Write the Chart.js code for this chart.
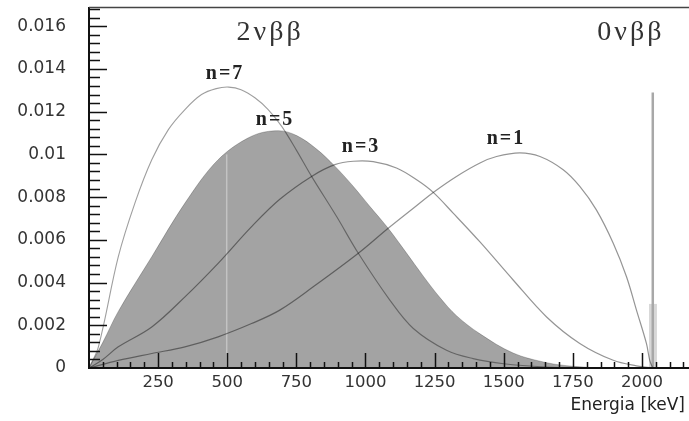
<!DOCTYPE html>
<html><head><meta charset="utf-8">
<script src="https://cdn.jsdelivr.net/npm/chart.js@4.4.0/dist/chart.umd.min.js"></script>
<style>html,body{margin:0;padding:0;background:#fff;}#wrap{width:689px;height:421px;}</style>
</head><body><div id="wrap"><canvas id="c" width="689" height="421"></canvas></div>
<script>
// ---- tick labels ----
const xTicks = [250, 500, 750, 1000, 1250, 1500, 1750, 2000];
const yTicks = [0, 0.002, 0.004, 0.006, 0.008, 0.01, 0.012, 0.014, 0.016];
const yTickLabels = ['0', '0.002', '0.004', '0.006', '0.008', '0.01', '0.012', '0.014', '0.016'];
const xTitle = 'Energia [keV]';

// ---- series (energy keV, value) ----
const n7E = [0, 34, 106, 166, 227, 287, 347, 407, 460, 505, 550, 600, 648, 697, 750, 805, 895, 974, 1088, 1173, 1293, 1389, 1500, 1650, 1800];
const n7V = [0, 0.00099, 0.00521, 0.00772, 0.00975, 0.01116, 0.0121, 0.0128, 0.01308, 0.01315, 0.01303, 0.01265, 0.0121, 0.01131, 0.0102, 0.00897, 0.0071, 0.00537, 0.00318, 0.00185, 0.00083, 0.00044, 0.0002, 0.00005, 0];

const n5E = [0, 50, 106, 227, 347, 467, 588, 685, 751, 823, 889, 956, 1016, 1082, 1149, 1209, 1269, 1329, 1414, 1534, 1655, 1750, 1850];
const n5V = [0, 0.0012, 0.00265, 0.00521, 0.00772, 0.00975, 0.01085, 0.01111, 0.01088, 0.01025, 0.00945, 0.0085, 0.00756, 0.00654, 0.00537, 0.0043, 0.0033, 0.00245, 0.0016, 0.0007, 0.00025, 0.00008, 0];

const n3E = [0, 50, 106, 227, 347, 467, 588, 690, 805, 889, 956, 1028, 1112, 1185, 1245, 1317, 1414, 1534, 1655, 1775, 1896, 1980, 2039];
const n3V = [0, 0.0004, 0.00099, 0.00192, 0.00333, 0.0049, 0.00662, 0.0079, 0.00897, 0.00952, 0.00968, 0.00966, 0.00936, 0.00881, 0.00822, 0.00725, 0.0059, 0.00412, 0.00239, 0.00115, 0.00036, 0.0001, 0];

const n1E = [0, 106, 227, 347, 467, 588, 690, 811, 974, 1082, 1173, 1245, 1329, 1414, 1474, 1558, 1631, 1715, 1775, 1835, 1896, 1944, 1980, 2016, 2028, 2039];
const n1V = [0, 0.00036, 0.00068, 0.00099, 0.00146, 0.00208, 0.00271, 0.0038, 0.00537, 0.00654, 0.00748, 0.00822, 0.00897, 0.0096, 0.0099, 0.01007, 0.0099, 0.00928, 0.0085, 0.0074, 0.00584, 0.00427, 0.00271, 0.00115, 0.00036, 0];

const peakE = [2039, 2039];
const peakV = [0, 0.0129];
const peakBaseE = [2025, 2025, 2054, 2054];
const peakBaseV = [0, 0.003, 0.003, 0];
const streakE = [498, 498];
const streakV = [0, 0.0100];

// ---- annotation texts (data coordinates) ----
const notes = [
  {t: '2νββ', x: 655, y: 0.01568, size: 28, bold: false, sp: 3, col: '#333'},
  {t: '0νββ', x: 1960, y: 0.01568, size: 28, bold: false, sp: 3, col: '#333'},
  {t: 'n=7', x: 492, y: 0.01376, size: 20, bold: true, sp: 2, col: '#222'},
  {t: 'n=5', x: 673, y: 0.01161, size: 20, bold: true, sp: 2, col: '#222'},
  {t: 'n=3', x: 984, y: 0.01035, size: 20, bold: true, sp: 2, col: '#222'},
  {t: 'n=1', x: 1508, y: 0.01072, size: 20, bold: true, sp: 2, col: '#222'}
];

const pts = (E, V) => E.map((e, i) => ({x: e, y: V[i]}));
const lineCol = 'rgba(0,0,0,0.42)';

const frame = {
  id: 'frame',
  afterDatasetsDraw(chart) {
    const {ctx, chartArea: a, scales: {x, y}} = chart;
    ctx.save();
    ctx.strokeStyle = '#111';
    ctx.lineWidth = 1.5;
    ctx.beginPath();
    for (let v = 50; v <= 2170; v += 50) {
      const px = Math.round(x.getPixelForValue(v)) + 0.5;
      const major = v % 250 === 0;
      ctx.moveTo(px, a.bottom);
      ctx.lineTo(px, a.bottom - (major ? 15 : 6));
    }
    for (let k = 1; k <= 42; k++) {
      const v = k * 0.0004;
      if (v > 0.0169) break;
      const py = Math.round(y.getPixelForValue(v)) + 0.5;
      const major = k % 5 === 0;
      ctx.moveTo(a.left, py);
      ctx.lineTo(a.left + (major ? 18 : 11), py);
    }
    ctx.stroke();
    ctx.lineWidth = 2;
    ctx.beginPath();
    ctx.moveTo(a.left, a.top);
    ctx.lineTo(a.left, a.bottom);
    ctx.lineTo(a.right, a.bottom);
    ctx.stroke();
    ctx.strokeStyle = '#444';
    ctx.lineWidth = 1.5;
    ctx.beginPath();
    ctx.moveTo(a.left, a.top + 0.5);
    ctx.lineTo(a.right, a.top + 0.5);
    ctx.stroke();
    ctx.textAlign = 'center';
    ctx.textBaseline = 'middle';
    notes.forEach(n => {
      ctx.font = (n.bold ? 'bold ' : '') + n.size + 'px "Liberation Serif"';
      ctx.fillStyle = n.col;
      try { ctx.letterSpacing = n.sp + 'px'; } catch (e) {}
      ctx.fillText(n.t, x.getPixelForValue(n.x), y.getPixelForValue(n.y));
    });
    try { ctx.letterSpacing = '0px'; } catch (e) {}
    ctx.font = '17px "DejaVu Sans"';
    ctx.fillStyle = '#222';
    ctx.textAlign = 'right';
    ctx.fillText(xTitle, 685, 406);
    ctx.restore();
  }
};

const lineDs = (E, V, col, w) => ({data: pts(E, V), borderColor: col, borderWidth: w, fill: false, tension: 0.35});

const chart = new Chart(document.getElementById('c'), {
  type: 'line',
  data: {
    datasets: [
      lineDs(n1E, n1V, lineCol, 1.2),
      lineDs(n3E, n3V, lineCol, 1.2),
      lineDs(n7E, n7V, 'rgba(0,0,0,0.38)', 1.1),
      {data: pts(peakE, peakV), borderColor: '#a8a8a8', borderWidth: 2.5, fill: false},
      {data: pts(streakE, streakV), borderColor: 'rgba(255,255,255,0.35)', borderWidth: 1.5, fill: false},
      {data: pts(n5E, n5V), borderColor: 'rgba(0,0,0,0.22)', borderWidth: 1, backgroundColor: '#a3a3a3', fill: 'origin', tension: 0.35},
      {data: pts(peakBaseE, peakBaseV), borderColor: 'rgba(0,0,0,0)', borderWidth: 0, backgroundColor: '#d8d8d8', fill: 'origin'}
    ]
  },
  options: {
    responsive: false,
    animation: false,
    layout: {padding: {top: 7, right: 0, left: 0, bottom: 0}},
    plugins: {legend: {display: false}, tooltip: {enabled: false}, title: {display: false}},
    elements: {point: {radius: 0, hoverRadius: 0}},
    scales: {
      x: {
        type: 'linear', min: 0, max: 2170,
        grid: {display: false, drawTicks: false},
        border: {display: false},
        ticks: {padding: 5, autoSkip: false, maxRotation: 0, color: '#333', font: {family: 'DejaVu Sans', size: 16.5}, callback: v => String(v)},
        afterBuildTicks: s => { s.ticks = xTicks.map(v => ({value: v})); },
        afterFit: s => { s.height = 53; }
      },
      y: {
        type: 'linear', min: 0, max: 0.0169,
        grid: {display: true, drawOnChartArea: false, drawTicks: true, tickLength: 23, tickColor: 'rgba(0,0,0,0)', color: 'rgba(0,0,0,0)'},
        border: {display: false},
        ticks: {padding: 0, autoSkip: false, color: '#333', font: {family: 'DejaVu Sans', size: 17, lineHeight: 0.7},
          callback: v => { const i = yTicks.findIndex(t => Math.abs(t - v) < 1e-9); return i >= 0 ? yTickLabels[i] : ''; }},
        afterBuildTicks: s => { s.ticks = yTicks.map(v => ({value: v})); },
        afterFit: s => { s.width = 89; }
      }
    }
  },
  plugins: [frame]
});
</script>
</body></html>
